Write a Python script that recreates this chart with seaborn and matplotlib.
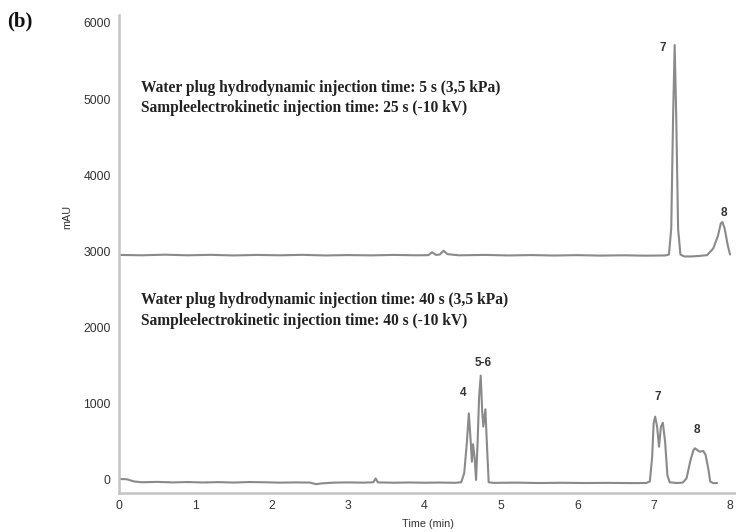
import matplotlib
matplotlib.use("Agg")
import matplotlib.pyplot as plt
import seaborn as sns
import pandas as pd

# ---- data (time in min, signal in mAU) ----
upper_time = [0.0, 0.3, 0.6, 0.9, 1.2, 1.5, 1.8, 2.1, 2.4, 2.7, 3.0, 3.3, 3.6, 3.9,
              4.05, 4.10, 4.15, 4.20, 4.25, 4.30, 4.45, 4.8, 5.1, 5.4, 5.7, 6.0, 6.3,
              6.6, 6.9, 7.15, 7.20, 7.23, 7.255, 7.275, 7.295, 7.32, 7.35, 7.40, 7.5,
              7.6, 7.70, 7.78, 7.84, 7.88, 7.90, 7.93, 7.97, 8.00]
upper_mau = [2955, 2950, 2958, 2950, 2956, 2948, 2955, 2950, 2956, 2948, 2953, 2949, 2955, 2950,
             2952, 2990, 2955, 2960, 3010, 2965, 2950, 2955, 2948, 2953, 2947, 2952, 2946,
             2950, 2945, 2948, 2960, 3300, 4800, 5711, 4800, 3300, 2960, 2935, 2935,
             2942, 2952, 3040, 3200, 3370, 3387, 3300, 3080, 2960]

lower_time = [0.0, 0.1, 0.2, 0.3, 0.5, 0.7, 0.9, 1.1, 1.3, 1.5, 1.7, 1.9, 2.1, 2.3, 2.5,
              2.58, 2.65, 2.8, 3.0, 3.2, 3.33, 3.36, 3.39, 3.6, 3.8, 4.0, 4.2, 4.4, 4.48,
              4.52, 4.555, 4.58, 4.605, 4.62, 4.635, 4.655, 4.675, 4.695, 4.715, 4.736,
              4.755, 4.77, 4.797, 4.82, 4.84, 4.9, 5.2, 5.5, 5.8, 6.1, 6.4, 6.7, 6.9,
              6.95, 6.98, 7.00, 7.02, 7.045, 7.07, 7.095, 7.12, 7.15, 7.18, 7.21, 7.3,
              7.38, 7.43, 7.48, 7.52, 7.54, 7.57, 7.60, 7.65, 7.68, 7.72, 7.74, 7.78, 7.83]
lower_mau = [13, 10, -20, -30, -25, -32, -27, -33, -28, -34, -27, -30, -35, -32, -34,
             -55, -45, -35, -32, -35, -30, 20, -32, -36, -33, -36, -34, -37, -30,
             90, 500, 875, 500, 240, 470, 300, 0, 500, 1100, 1370,
             900, 700, 928, 400, -30, -38, -35, -40, -37, -40, -38, -41, -40,
             -20, 300, 750, 831, 700, 437, 700, 752, 500, 60, -30, -40,
             -35, 20, 250, 390, 416, 395, 372, 380, 330, 120, -20, -42, -40]

peak_labels = ["7", "8", "4", "5-6", "7", "8"]
peak_label_time = [7.12, 7.92, 4.51, 4.77, 7.06, 7.57]
peak_label_mau = [5672, 3505, 1142, 1536, 1090, 656]

x_ticks = [0, 1, 2, 3, 4, 5, 6, 7, 8]
y_ticks = [0, 1000, 2000, 3000, 4000, 5000, 6000]

upper_notes = ["Water plug hydrodynamic injection time: 5 s (3,5 kPa)",
               "Sampleelectrokinetic injection time: 25 s (-10 kV)"]
lower_notes = ["Water plug hydrodynamic injection time: 40 s (3,5 kPa)",
               "Sampleelectrokinetic injection time: 40 s (-10 kV)"]

# ---- build frame ----
df = pd.concat([
    pd.DataFrame({"Time (min)": upper_time, "mAU": upper_mau, "run": "upper"}),
    pd.DataFrame({"Time (min)": lower_time, "mAU": lower_mau, "run": "lower"}),
], ignore_index=True)

sns.set_theme(style="white")
plt.rcParams["font.family"] = ["Liberation Sans", "DejaVu Sans"]

fig = plt.figure(figsize=(7.36, 5.32), dpi=100)
W, H = 736, 532
ax = fig.add_axes([119 / W, 1 - 493 / H, (736 - 119) / W, (493 - 15) / H])

sns.lineplot(data=df, x="Time (min)", y="mAU", units="run", estimator=None,
             sort=False, color="#8a8a8a", linewidth=1.5, ax=ax, legend=False)

ax.set_xlim(0, 8.078)
ax.set_ylim(-171, 6105)
ax.set_xticks(x_ticks)
ax.set_yticks(y_ticks)
ax.tick_params(axis="both", length=0, labelsize=8.8, labelcolor="#333333", pad=6)
ax.tick_params(axis="x", pad=5)
for s in ["top", "right"]:
    ax.spines[s].set_visible(False)
for s in ["left", "bottom"]:
    ax.spines[s].set_color("#c4c4c4")
    ax.spines[s].set_linewidth(1.8)

ax.set_xlabel("Time (min)", fontsize=7.8, color="#333333", labelpad=5)
ax.set_ylabel("mAU", fontsize=7.8, color="#333333")
ax.yaxis.set_label_coords(-0.076, 0.577)

for lab, t, v in zip(peak_labels, peak_label_time, peak_label_mau):
    ax.text(t, v, lab, ha="center", va="center", fontsize=8.5, fontweight="bold",
            color="#333333")

serif = ["Liberation Serif", "DejaVu Serif"]
for i, line in enumerate(upper_notes):
    fig.text(141 / W, 1 - (88 + 20 * i) / H, line, family=serif, fontweight="bold",
             fontsize=11.2, va="center", ha="left", color="#222222")
for i, line in enumerate(lower_notes):
    fig.text(141 / W, 1 - (300 + 21 * i) / H, line, family=serif, fontweight="bold",
             fontsize=11.2, va="center", ha="left", color="#222222")

fig.text(7 / W, 1 - 21 / H, "(b)", family=serif, fontweight="bold", fontsize=15,
         va="center", ha="left", color="#111111")

fig.savefig("out.png", dpi=100)
